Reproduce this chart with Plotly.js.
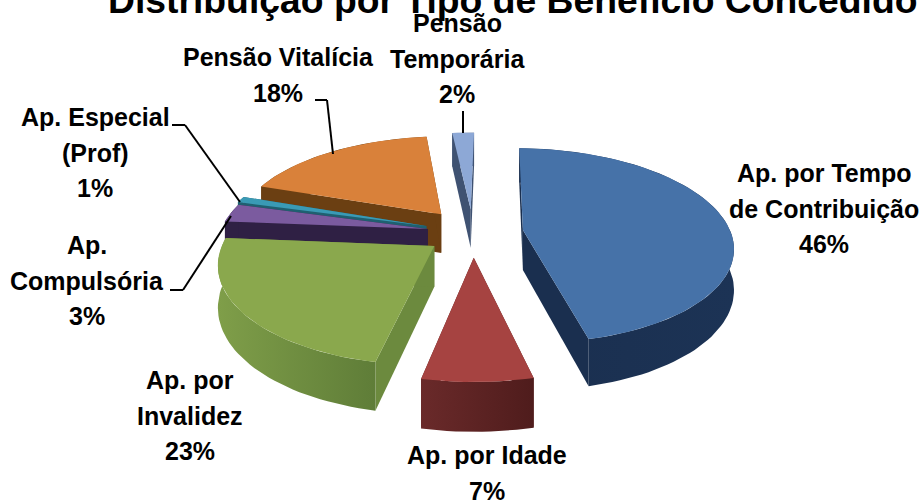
<!DOCTYPE html>
<html><head><meta charset="utf-8">
<script src="https://cdn.plot.ly/plotly-3.0.1.min.js"></script>
<style>html,body{margin:0;padding:0;background:#fff}#c{width:922px;height:500px}</style>
</head><body><div id="c"></div>
<script>
// Data
const categories = ["Ap. por Tempo de Contribuição","Ap. por Idade","Ap. por Invalidez","Ap. Compulsória","Ap. Especial (Prof)","Pensão Vitalícia","Pensão Temporária"];
const shares = [46,7,23,3,1,18,2];
const labelLines = [["Ap. por Tempo","de Contribuição"],["Ap. por Idade"],["Ap. por","Invalidez"],["Ap.","Compulsória"],["Ap. Especial","(Prof)"],["Pensão Vitalícia"],["Pensão","Temporária"]];
const chartTitle = "Distribuição por Tipo de Benefício Concedido";

// Style
const explode    = [48,50,45,44,47,50,50];
const topColors  = ["#4672a8","#a64341","#8aa84d","#7b5b9f","#3a9ab5","#d9813a","#8da8d6"];
const radColors  = ["#1a2f4f","#5a2222","#6c8a3e","#2f2044","#1f6070","#6b3f12","#3f5272"];
const arcLeft    = ["#1a2f4f","#6a2a2a","#7f9e49","#2f2044","#1f6070","#6b3f12","#3f5272"];
const arcRight   = ["#1c3355","#4f1c1c","#5f7d38","#2f2044","#1f6070","#6b3f12","#3f5272"];
const drawOrder  = [5,4,3,2,6,1,0];
const labelX = [824,487,190,87,95,278,457];
const labelY = [173,455,380,245,117,57,23];
const LINE = 35.5;
const G = {cx:473, cy:232.6, A:1.05, B:0.483, p:0.0008, R:198, D:40, rot:1};
const leaders = [
  [[315,100],[327,100],[333,154]],
  [[463,111],[463,133]],
  [[172,125],[185,125],[240,202]],
  [[170,290],[183,290],[231,216]]
];

function proj(X,Y,z){
  const w = 1+G.p*Y;
  return [G.cx+G.A*X/w, G.cy-G.B*Y/w+(z?G.D/w:0)];
}
const rad = d=>d*Math.PI/180;
const total = shares.reduce((a,b)=>a+b,0);
let acc = 0;
const slices = shares.map(s=>{ const a0=acc/total*360+G.rot; acc+=s; return {a0, a1:acc/total*360+G.rot}; });

const traces = [];
function poly(pts, opt, name){
  const x=pts.map(p=>p[0]), y=pts.map(p=>p[1]);
  x.push(x[0]); y.push(y[0]);
  traces.push(Object.assign({type:'scatter',mode:'lines',x,y,fill:'toself',line:{width:0},hoverinfo:'skip',name},opt));
}
drawOrder.forEach(i=>{
  const {a0,a1}=slices[i], m=rad((a0+a1)/2);
  const ox=explode[i]*Math.sin(m), oy=explode[i]*Math.cos(m);
  const arc=z=>{const r=[];const n=Math.max(2,Math.ceil((a1-a0)/2));
    for(let k=0;k<=n;k++){const t=rad(a0+(a1-a0)*k/n);r.push(proj(ox+G.R*Math.sin(t),oy+G.R*Math.cos(t),z));}return r;};
  const at=arc(false), ab=arc(true), ct=proj(ox,oy,false), cb=proj(ox,oy,true);
  poly([ct,at[0],ab[0],cb],{fillcolor:radColors[i]},categories[i]+" a");
  poly([ct,at[at.length-1],ab[ab.length-1],cb],{fillcolor:radColors[i]},categories[i]+" b");
  poly(at.concat(ab.slice().reverse()),{fillcolor:arcLeft[i],fillgradient:{type:'horizontal',colorscale:[[0,arcLeft[i]],[1,arcRight[i]]]}},categories[i]+" c");
  poly([ct].concat(at),{fillcolor:topColors[i]},categories[i]);
});

const font={family:'"Liberation Sans",Arial,sans-serif',size:25,color:'#000'};
const annotations=[{xref:'x',yref:'y',x:513,y:0,text:'<b>'+chartTitle+'</b>',showarrow:false,xanchor:'center',yanchor:'middle',font:Object.assign({},font,{size:37.3})}];
categories.forEach((c,i)=>{
  const lines=labelLines[i].concat([shares[i]+'%']);
  lines.forEach((t,j)=>annotations.push({xref:'x',yref:'y',x:labelX[i],y:labelY[i]+j*LINE,text:'<b>'+t+'</b>',showarrow:false,xanchor:'center',yanchor:'middle',font}));
});
const shapes=[];
leaders.forEach(l=>{for(let k=0;k<l.length-1;k++)shapes.push({type:'line',xref:'x',yref:'y',x0:l[k][0],y0:l[k][1],x1:l[k+1][0],y1:l[k+1][1],line:{color:'#000',width:2}});});

Plotly.newPlot('c',traces,{
  width:922,height:500,margin:{l:0,r:0,t:0,b:0},showlegend:false,
  paper_bgcolor:'#fff',plot_bgcolor:'#fff',
  xaxis:{range:[0,922],visible:false,fixedrange:true},
  yaxis:{range:[500,0],visible:false,fixedrange:true},
  annotations,shapes
},{displayModeBar:false,staticPlot:true});
</script></body></html>
